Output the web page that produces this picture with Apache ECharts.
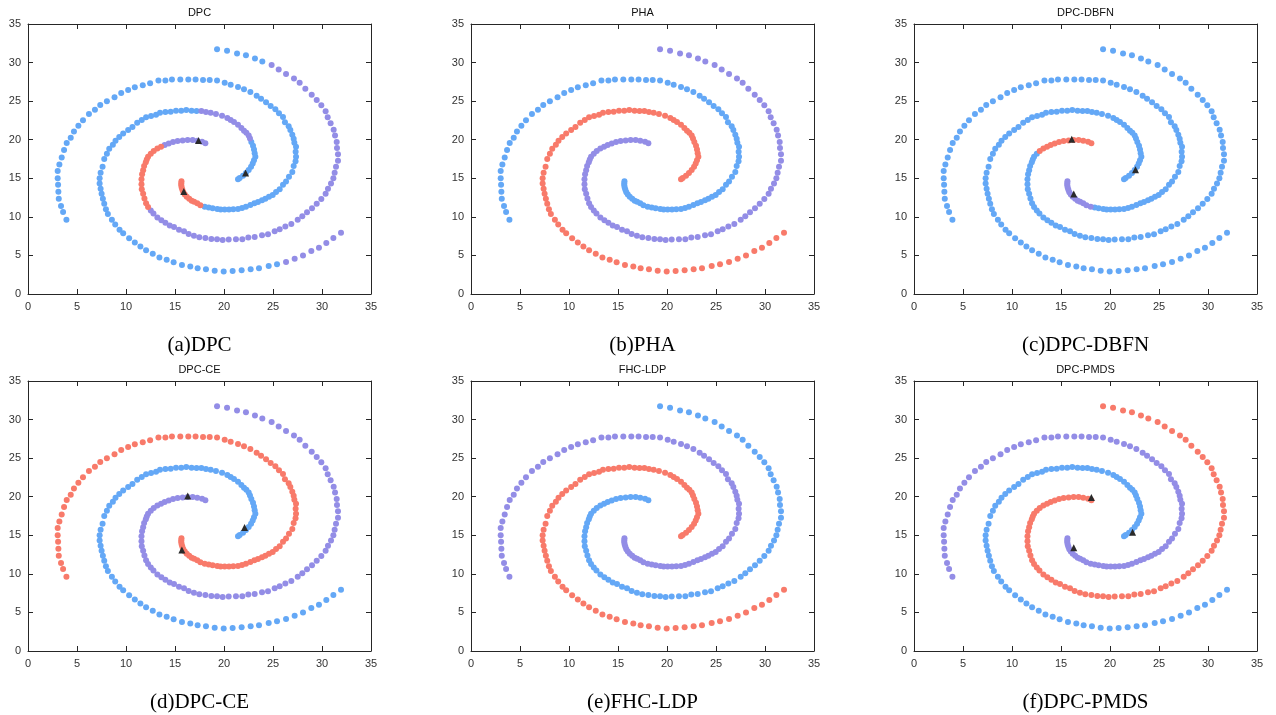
<!DOCTYPE html>
<html>
<head>
<meta charset="utf-8">
<script src="https://cdn.jsdelivr.net/npm/echarts/dist/echarts.min.js"></script>
<style>
html, body { margin: 0; padding: 0; background: #fff; }
#chart { width: 1276px; height: 715px; }
</style>
</head>
<body>
<div id="chart"></div>
<script>
// spiral arms, outer end -> inner end
var armB = [
  [3.92,9.62],[3.58,10.64],[3.37,11.41],[3.14,12.35],[3.1,13.25],[3.07,14.15],[3.03,15.0],[3.03,15.94],[3.2,16.79],
  [3.44,17.71],[3.68,18.66],[3.95,19.57],[4.36,20.26],[4.69,21.08],[5.14,21.82],[5.61,22.51],[6.22,23.33],[6.83,23.9],
  [7.37,24.5],[8.05,24.98],[8.83,25.5],[9.51,26.06],[10.22,26.45],[10.9,26.8],[11.71,27.06],[12.46,27.32],[13.31,27.66],
  [14.02,27.66],[14.69,27.79],[15.54,27.79],[16.36,27.79],[17.1,27.79],
  [17.86,27.75],[18.54,27.75],[19.29,27.66],[20.07,27.4],[20.68,27.14],[21.43,26.84],[22.04,26.54],[22.69,26.19],
  [23.33,25.71],[23.78,25.32],[24.29,24.85],[24.76,24.37],[25.24,23.94],[25.61,23.42],[26.02,22.94],[26.22,22.25],
  [26.6,21.73],[26.77,21.26],[26.97,20.65],[27.11,20.13],[27.18,19.61],[27.35,19.09],[27.31,18.44],[27.35,17.79],
  [27.3,17.2],[27.11,16.58],[26.97,15.81],[26.63,15.21],[26.33,14.57],[26.02,14.15],[25.68,13.59],[25.31,13.21],
  [24.97,12.82],[24.59,12.61],[24.22,12.35],[23.88,12.14],[23.47,11.92],[23.1,11.75],[22.69,11.54],[22.24,11.32],
  [21.84,11.15],[21.43,11.03],[20.95,10.98],[20.51,10.94],[20.07,10.94],[19.66,10.94],[19.32,11.03],[18.84,11.11],
  [18.44,11.2],[18.03,11.32],[17.59,11.5],
  [17.27,11.75],[16.95,11.95],[16.7,12.1],[16.45,12.35],[16.2,12.6],[16.0,12.9],[15.85,13.2],[15.75,13.5],
  [15.68,13.8],[15.64,14.1],[15.64,14.35],[15.66,14.6]
];
var armR = [
  [31.94,7.95],[31.16,7.26],[30.44,6.62],[29.69,5.98],[28.91,5.56],[28.06,5.0],[27.21,4.57],[26.33,4.15],[25.41,3.85],
  [24.56,3.63],[23.57,3.33],[22.72,3.21],[21.8,3.08],[20.88,2.99],[19.97,2.91],[19.05,3.03],[18.16,3.21],
  [17.31,3.33],[16.56,3.55],[15.71,3.76],[14.86,4.1],[14.15,4.44],[13.41,4.74],[12.73,5.21],[12.05,5.68],[11.47,6.15],
  [10.9,6.67],[10.32,7.22],[9.71,7.86],[9.34,8.33],[8.9,9.02],[8.56,9.62],[8.15,10.38],[7.95,10.98],[7.78,11.71],
  [7.64,12.35],[7.51,12.99],[7.41,13.63],[7.31,14.32],[7.31,15.0],[7.41,15.73],[7.61,16.5],[7.78,17.5],
  [8.05,18.18],[8.29,18.83],[8.66,19.35],[8.93,19.87],[9.31,20.35],[9.71,20.82],[10.22,21.26],[10.66,21.65],
  [11.14,22.21],[11.61,22.55],[12.05,22.9],[12.56,23.07],[13.07,23.25],[13.47,23.51],[14.02,23.59],[14.56,23.64],
  [15.1,23.77],[15.64,23.77],[16.15,23.85],[16.69,23.77],[17.2,23.72],
  [17.69,23.72],[18.16,23.59],[18.64,23.51],[19.18,23.33],[19.8,23.12],[20.34,22.81],[20.68,22.55],[21.02,22.29],
  [21.43,21.95],[21.77,21.52],[22.04,21.17],[22.28,20.91],[22.52,20.56],[22.65,20.17],[22.79,19.7],[22.96,19.22],
  [23.06,18.74],[23.13,18.23],[23.2,17.79],
  [23.06,17.35],[22.93,16.92],[22.76,16.5],[22.52,16.07],[22.24,15.68],[21.94,15.34],[21.6,15.04],[21.43,14.87]
];
var armP = [
  [19.29,31.73],[20.31,31.52],[21.33,31.17],[22.24,30.95],[23.16,30.52],[23.91,30.13],[24.86,29.7],[25.58,29.09],
  [26.33,28.53],[27.14,27.92],[27.72,27.4],[28.3,26.62],[28.95,25.84],[29.46,25.15],[29.93,24.46],[30.37,23.68],
  [30.58,22.9],[30.88,22.12],[31.19,21.3],[31.33,20.56],[31.5,19.7],[31.53,18.92],[31.63,18.1],
  [31.63,17.26],[31.43,16.5],[31.29,15.73],[31.16,15.0],[30.92,14.32],[30.61,13.63],[30.37,12.99],[29.93,12.31],
  [29.46,11.71],[28.98,11.11],[28.47,10.6],[27.99,10.09],[27.52,9.62],[26.87,9.06],[26.26,8.76],[25.68,8.38],
  [25.17,8.12],[24.49,7.74],[23.88,7.61],[23.13,7.39],[22.48,7.31],[21.87,7.09],[21.22,7.09],[20.48,7.05],
  [19.86,7.01],[19.29,7.09],[18.71,7.14],[18.1,7.26],[17.48,7.35],
  [16.93,7.56],[16.39,7.78],[15.92,8.12],[15.41,8.33],[14.9,8.68],[14.46,8.89],[14.02,9.23],[13.61,9.57],
  [13.2,9.91],[12.8,10.43],[12.53,10.81],[12.25,11.28],[12.05,11.75],[11.88,12.39],[11.75,12.99],[11.61,13.59],
  [11.58,14.23],[11.58,14.87],[11.64,15.51],[11.75,16.03],[11.85,16.58],[12.02,17.09],
  [12.12,17.45],[12.25,17.79],[12.53,18.18],[12.83,18.53],[13.2,18.87],[13.58,19.09],[13.95,19.31],[14.36,19.52],
  [14.8,19.7],[15.27,19.83],[15.78,19.91],[16.29,19.96],[16.8,19.96],[17.27,19.87],[17.76,19.74],[18.1,19.55]
];

// cluster labels as runs [startIndex, cluster] per arm (B, R, P); 0 blue, 1 purple, 2 red
var dpcRuns  = [[[0,0],[82,2]], [[0,1],[8,0],[64,1],[78,0]], [[0,0],[6,1],[63,2],[80,1]]];
var phaRuns  = [[[0,0]], [[0,2]], [[0,1]]];
var dbfnRuns = [[[0,0],[81,1]], [[0,0]], [[0,0],[77,2]]];
var ceRuns   = [[[0,2]], [[0,0]], [[0,1]]];
var ldpRuns  = [[[0,1]], [[0,2]], [[0,0]]];
var pmdsRuns = [[[0,1]], [[0,0]], [[0,2]]];

// cluster centres (black triangles)
var dpcCenters  = [[15.9,13.3],[22.2,15.7],[17.4,19.9]];
var phaCenters  = [];
var dbfnCenters = [[16.3,12.97],[22.6,16.1],[16.1,20.05]];
var ceCenters   = [[15.7,13.1],[22.1,16.0],[16.3,20.1]];
var ldpCenters  = [];
var pmdsCenters = [[16.3,13.4],[22.3,15.4],[18.1,19.9]];

var titles   = ['DPC', 'PHA', 'DPC-DBFN', 'DPC-CE', 'FHC-LDP', 'DPC-PMDS'];
var captions = ['(a)DPC', '(b)PHA', '(c)DPC-DBFN', '(d)DPC-CE', '(e)FHC-LDP', '(f)DPC-PMDS'];
var axisTicks = [0, 5, 10, 15, 20, 25, 30, 35];

(function () {
  var allRuns = [dpcRuns, phaRuns, dbfnRuns, ceRuns, ldpRuns, pmdsRuns];
  var allCenters = [dpcCenters, phaCenters, dbfnCenters, ceCenters, ldpCenters, pmdsCenters];
  var arms = [armB, armR, armP];
  var colors = ['#64A8F6', '#938DE6', '#F87A6A'];

  var lefts = [28, 471, 914];
  var tops = [24, 381];
  var gw = 343, gh = 270;
  var axisColor = '#262626';
  var sans = "'Liberation Sans', Arial, sans-serif";

  function clusterOf(runs, i) {
    var c = runs[0][1];
    for (var k = 0; k < runs.length; k++) {
      if (i >= runs[k][0]) c = runs[k][1];
    }
    return c;
  }

  function axis(pos, labels, gi) {
    return {
      type: 'value',
      gridIndex: gi,
      position: pos,
      min: axisTicks[0],
      max: axisTicks[axisTicks.length - 1],
      interval: axisTicks[1] - axisTicks[0],
      splitLine: { show: false },
      axisLine: { show: true, onZero: false, lineStyle: { color: axisColor, width: 1 } },
      axisTick: { show: true, inside: true, length: 5, lineStyle: { color: axisColor } },
      axisLabel: { show: labels, color: '#333', fontSize: 11, fontFamily: sans, margin: 7 }
    };
  }

  var grid = [], xAxis = [], yAxis = [], series = [], graphic = [];

  for (var p = 0; p < 6; p++) {
    var gLeft = lefts[p % 3];
    var gTop = tops[Math.floor(p / 3)];
    grid.push({ left: gLeft, top: gTop, width: gw, height: gh });
    xAxis.push(axis('bottom', true, p), axis('top', false, p));
    yAxis.push(axis('left', true, p), axis('right', false, p));

    var groups = [[], [], []];
    for (var a = 0; a < arms.length; a++) {
      for (var i = 0; i < arms[a].length; i++) {
        groups[clusterOf(allRuns[p][a], i)].push(arms[a][i].slice());
      }
    }
    for (var c = 0; c < 3; c++) {
      series.push({
        type: 'scatter',
        xAxisIndex: 2 * p,
        yAxisIndex: 2 * p,
        symbolSize: 6,
        itemStyle: { color: colors[c], opacity: 1 },
        silent: true,
        data: groups[c]
      });
    }
    if (allCenters[p].length) {
      series.push({
        type: 'scatter',
        xAxisIndex: 2 * p,
        yAxisIndex: 2 * p,
        symbol: 'triangle',
        symbolSize: 7,
        itemStyle: { color: '#2a2a2a', opacity: 1 },
        silent: true,
        z: 5,
        data: allCenters[p]
      });
    }

    graphic.push({
      type: 'text',
      x: gLeft + gw / 2,
      y: gTop - 11,
      style: { text: titles[p], textAlign: 'center', textVerticalAlign: 'middle', fill: '#111', font: "11px " + sans }
    });
    graphic.push({
      type: 'text',
      x: gLeft + gw / 2,
      y: gTop + 321,
      style: { text: captions[p], textAlign: 'center', textVerticalAlign: 'middle', fill: '#000', font: "21px 'Liberation Serif', 'Times New Roman', serif" }
    });
  }

  var chart = echarts.init(document.getElementById('chart'));
  chart.setOption({
    animation: false,
    backgroundColor: '#fff',
    grid: grid,
    xAxis: xAxis,
    yAxis: yAxis,
    series: series,
    graphic: graphic
  });
})();
</script>
</body>
</html>
